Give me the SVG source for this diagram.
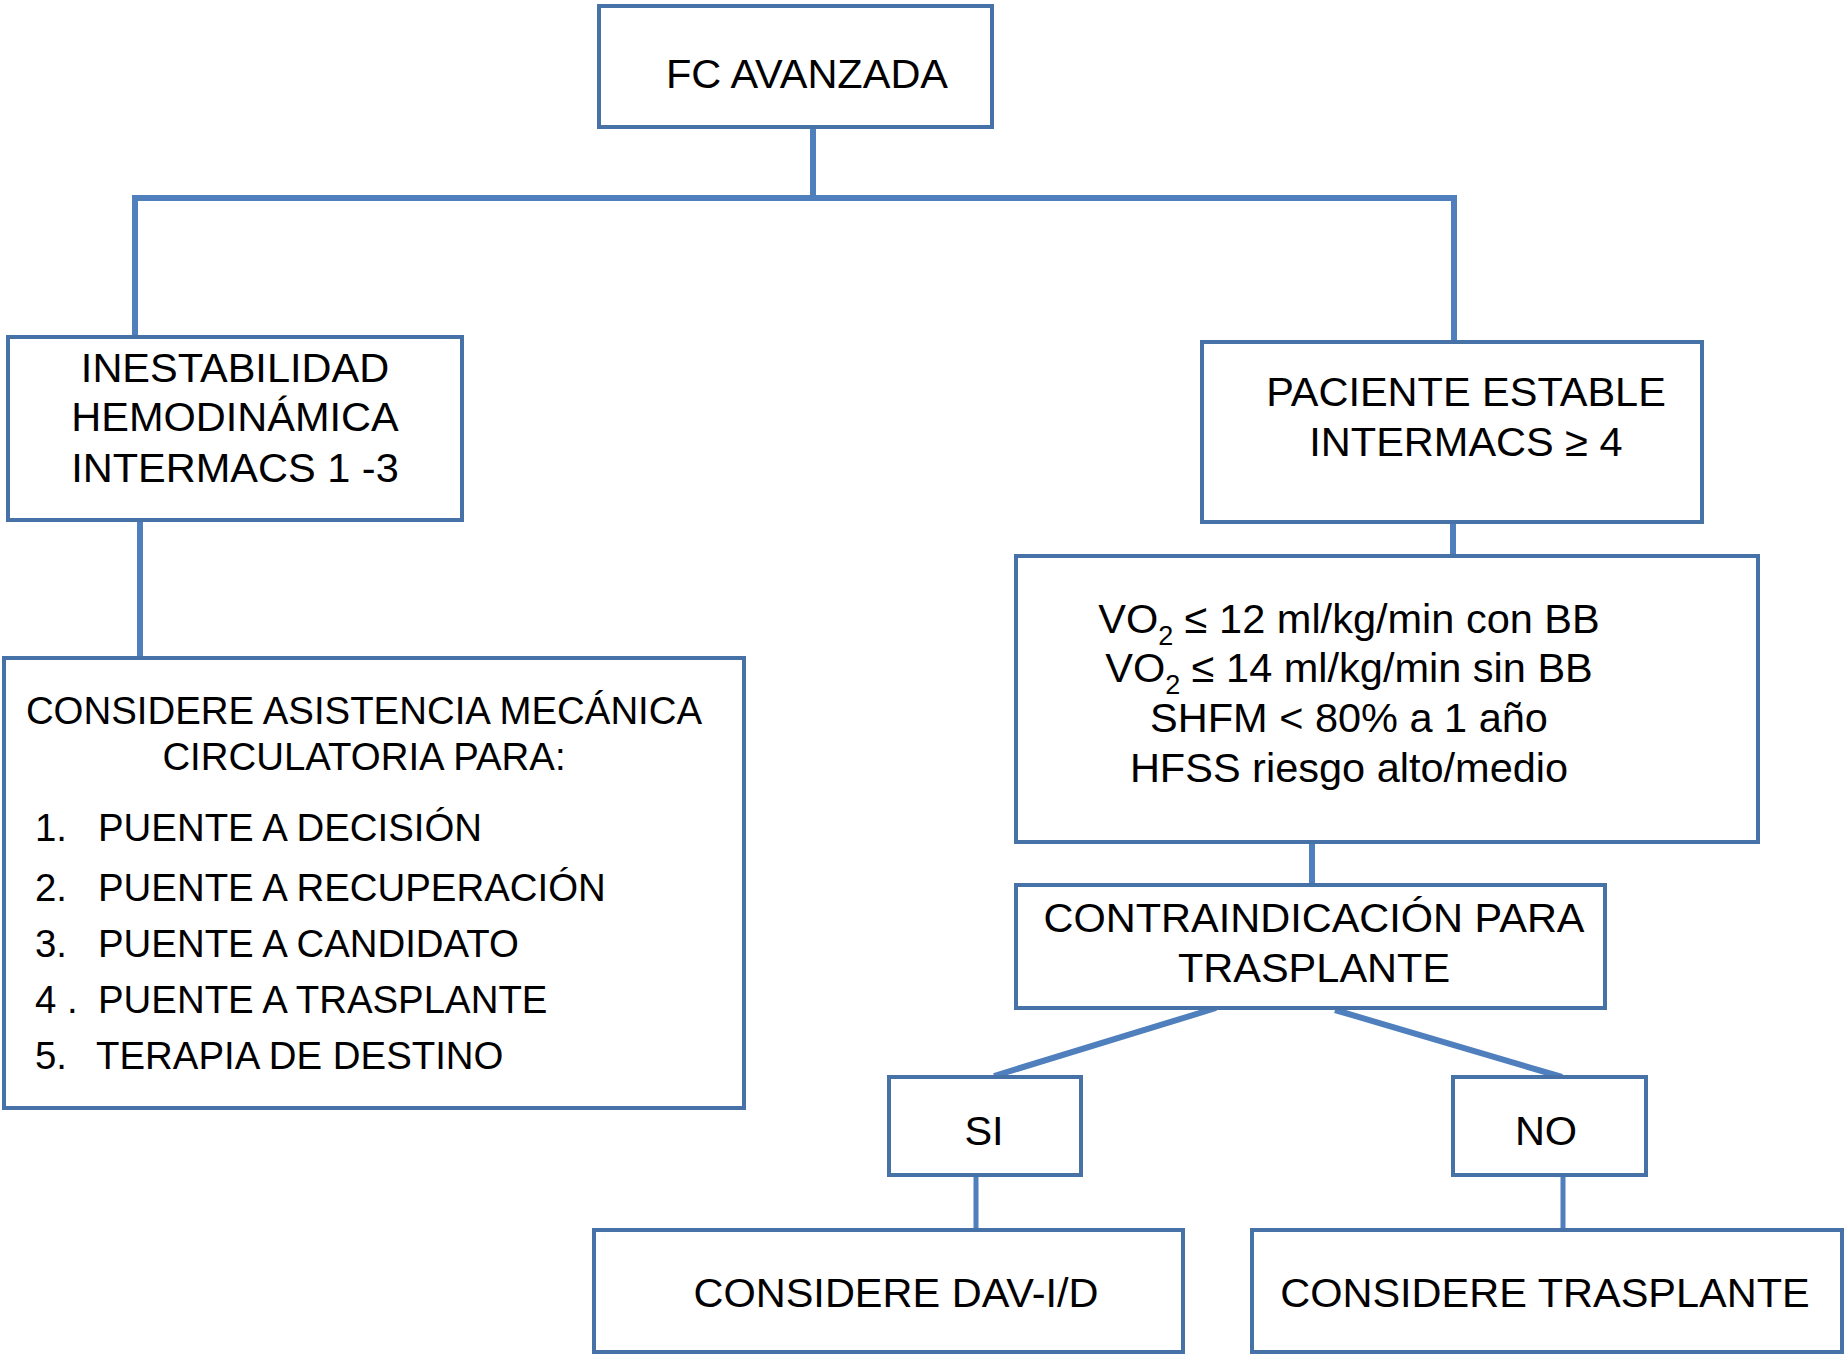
<svg xmlns="http://www.w3.org/2000/svg" width="1848" height="1357" viewBox="0 0 1848 1357">
<style>
.box{fill:#ffffff;stroke:#4672a8;stroke-width:4}
.t{font-family:"Liberation Sans",Arial,Helvetica,sans-serif;font-size:41.5px;fill:#000000}
.s{font-size:38.4px}
.c{text-anchor:middle}
.ln{stroke:#4f7fbd;stroke-width:6;fill:none}
.ln2{stroke:#4f7fbd;stroke-width:5;fill:none}
.sub{font-size:27px}
</style>
<rect width="1848" height="1357" fill="#ffffff"/>
<g id="connectors">
<line class="ln" x1="813" y1="127" x2="813" y2="198"/>
<polyline class="ln" points="135,337 135,198 1454,198 1454,342"/>
<line class="ln" x1="140" y1="520" x2="140" y2="658"/>
<line class="ln" x1="1453" y1="522" x2="1453" y2="556"/>
<line class="ln" x1="1312" y1="842" x2="1312" y2="885"/>
<line class="ln" x1="1216" y1="1008" x2="994" y2="1076"/>
<line class="ln" x1="1335" y1="1010" x2="1562" y2="1077"/>
<line class="ln2" x1="976" y1="1175" x2="976" y2="1230"/>
<line class="ln2" x1="1563" y1="1175" x2="1563" y2="1230"/>
</g>
<g id="fc">
<rect class="box" x="599" y="6" width="393" height="121"/>
<text class="t c" x="807" y="88">FC AVANZADA</text>
</g>
<g id="inestabilidad">
<rect class="box" x="8" y="337" width="454" height="183"/>
<text class="t c" x="235" y="382">INESTABILIDAD</text>
<text class="t c" x="235" y="431">HEMODINÁMICA</text>
<text class="t c" x="235" y="482">INTERMACS 1 -3</text>
</g>
<g id="estable">
<rect class="box" x="1202" y="342" width="500" height="180"/>
<text class="t c" x="1466" y="406">PACIENTE ESTABLE</text>
<text class="t c" x="1466" y="456">INTERMACS ≥ 4</text>
</g>
<g id="criterios">
<rect class="box" x="1016" y="556" width="742" height="286"/>
<text class="t c" x="1349" y="633">VO<tspan class="sub" dy="12">2</tspan><tspan dy="-12"> ≤ 12 ml/kg/min con BB</tspan></text>
<text class="t c" x="1349" y="682">VO<tspan class="sub" dy="12">2</tspan><tspan dy="-12"> ≤ 14 ml/kg/min sin BB</tspan></text>
<text class="t c" x="1349" y="732">SHFM &lt; 80% a 1 año</text>
<text class="t c" x="1349" y="782">HFSS riesgo alto/medio</text>
</g>
<g id="asistencia">
<rect class="box" x="4" y="658" width="740" height="450"/>
<text class="t s c" x="364" y="724">CONSIDERE ASISTENCIA MECÁNICA</text>
<text class="t s c" x="364" y="770">CIRCULATORIA PARA:</text>
<text class="t s" x="35" y="841">1.</text><text class="t s" x="98" y="841">PUENTE A DECISIÓN</text>
<text class="t s" x="35" y="901">2.</text><text class="t s" x="98" y="901">PUENTE A RECUPERACIÓN</text>
<text class="t s" x="35" y="957">3.</text><text class="t s" x="98" y="957">PUENTE A CANDIDATO</text>
<text class="t s" x="35" y="1013">4 .</text><text class="t s" x="98" y="1013">PUENTE A TRASPLANTE</text>
<text class="t s" x="35" y="1069">5.</text><text class="t s" x="96" y="1069">TERAPIA DE DESTINO</text>
</g>
<g id="contraindicacion">
<rect class="box" x="1016" y="885" width="589" height="123"/>
<text class="t c" x="1314" y="932">CONTRAINDICACIÓN PARA</text>
<text class="t c" x="1314" y="982">TRASPLANTE</text>
</g>
<g id="si">
<rect class="box" x="889" y="1077" width="192" height="98"/>
<text class="t c" x="984" y="1145">SI</text>
</g>
<g id="no">
<rect class="box" x="1453" y="1077" width="193" height="98"/>
<text class="t c" x="1546" y="1145">NO</text>
</g>
<g id="dav">
<rect class="box" x="594" y="1230" width="589" height="122"/>
<text class="t c" x="896" y="1307">CONSIDERE DAV-I/D</text>
</g>
<g id="trasplante">
<rect class="box" x="1252" y="1230" width="590" height="122"/>
<text class="t c" x="1545" y="1307">CONSIDERE TRASPLANTE</text>
</g>
</svg>
